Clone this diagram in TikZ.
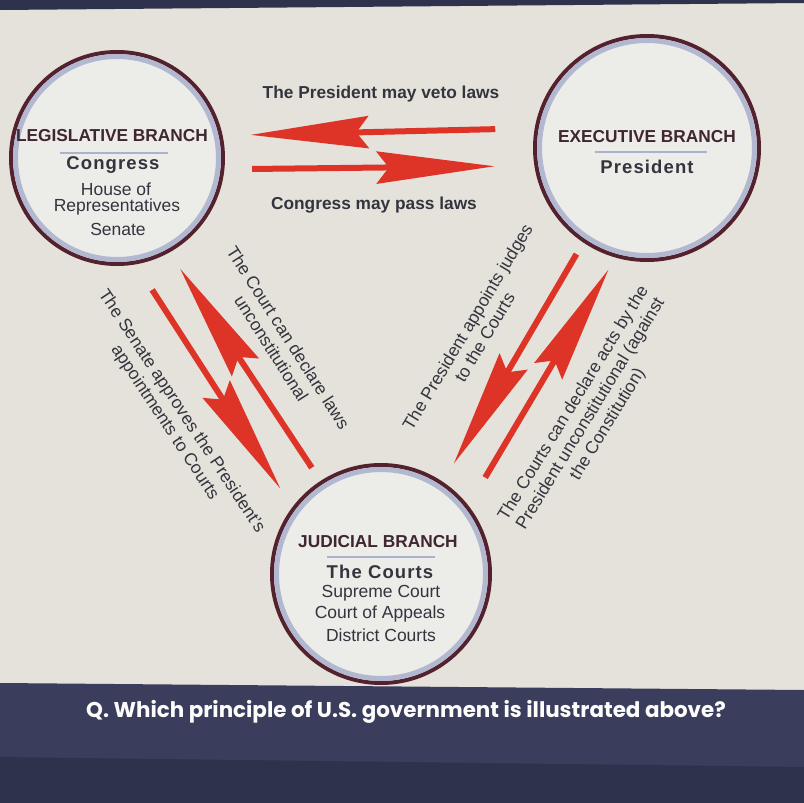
\documentclass[tikz,border=0pt]{standalone}
\usepackage{fontspec}
\setmainfont{Liberation Sans}
\newfontfamily\espaciada[LetterSpace=6]{Liberation Sans}
\newfontfamily\pregunta{Poppins}
\usetikzlibrary{arrows.meta}
\definecolor{fondo}{RGB}{228,226,218}
\definecolor{interior}{RGB}{236,236,233}
\definecolor{granate}{RGB}{84,34,46}
\definecolor{colAro}{RGB}{178,184,208}
\definecolor{rojo}{RGB}{222,52,40}
\definecolor{colTitulo}{RGB}{64,38,48}
\definecolor{colTexto}{RGB}{52,52,62}
\definecolor{banda}{RGB}{58,62,92}
\definecolor{bandaosc}{RGB}{46,50,76}
\definecolor{separa}{RGB}{172,178,205}

\begin{document}
\begin{tikzpicture}[x=1pt, y=-1pt,
    rama/.style={circle, draw=granate, line width=4pt, fill=interior, inner sep=0pt},
    aro/.style={draw=colAro, line width=5pt},
    flecha/.style={draw=rojo, line width=6pt,
      -{Stealth[length=118pt, width=32pt, inset=12pt]}},
    titulo/.style={font=\bfseries\fontsize{17.3}{20}\selectfont, text=colTitulo},
    subtitulo/.style={font=\espaciada\bfseries\fontsize{18.5}{22}\selectfont, text=colTexto},
    linea/.style={font=\fontsize{17.5}{20}\selectfont, text=colTexto},
    nota/.style={font=\fontsize{17.5}{20}\selectfont, text=colTexto, align=center},
    notab/.style={font=\bfseries\fontsize{17.3}{20}\selectfont, text=colTexto}]
  % Fondo
  \useasboundingbox (0,0) rectangle (804,803);
  \fill[fondo] (0,0) rectangle (804,803);
  \fill[bandaosc] (0,0) -- (804,0) -- (804,3) -- (0,10) -- cycle;

  % Ramas
  \node[rama, minimum size=212pt] (legis) at (117,158) {};
  \node[rama, minimum size=224pt] (ejec) at (647,148) {};
  \node[rama, minimum size=218pt] (judic) at (381,574) {};
  \draw[aro] (legis.center) circle[radius=101.5pt];
  \draw[aro] (ejec.center) circle[radius=107.5pt];
  \draw[aro] (judic.center) circle[radius=104.5pt];

  % Textos de las ramas
  \node[titulo] (legisT) at (112,136) {LEGISLATIVE BRANCH};
  \draw[separa, line width=1.5pt] (60,153) -- (168,153);
  \node[subtitulo] (congreso) at (113,165) {Congress};
  \node[linea] (camara) at (116,189) {House of};
  \node[linea] (repres) at (117,207) {Representatives};
  \node[linea] (senado) at (118,229) {Senate};

  \node[titulo] (ejecT) at (647,137) {EXECUTIVE BRANCH};
  \draw[separa, line width=1.5pt] (595,152) -- (707,152);
  \node[subtitulo] (presidente) at (647,167) {President};

  \node[titulo] (judicT) at (378,542) {JUDICIAL BRANCH};
  \draw[separa, line width=1.5pt] (327,557) -- (435,557);
  \node[subtitulo] (cortes) at (380,572) {The Courts};
  \node[linea] (suprema) at (381,593) {Supreme Court};
  \node[linea] (apelacion) at (380,614) {Court of Appeals};
  \node[linea] (distrito) at (381,635) {District Courts};

  % Flechas horizontales
  \draw[flecha, shorten <=39.5pt, shorten >=27.7pt] (ejec.170.75) -- (legis.12.96);
  \draw[flecha, shorten <=27.7pt, shorten >=39.6pt] (legis.-6.44) -- (ejec.189.77);
  \node[notab] (veto) at (381,94) {The President may veto laws};
  \node[notab] (aprueba) at (374,205) {Congress may pass laws};

  % Flechas diagonales
  \draw[flecha, shorten <=30.3pt, shorten >=22pt] (legis.-80.5) -- (judic.143.1);
  \draw[flecha, shorten <=15.8pt, shorten >=19.3pt] (judic.123.6) -- (legis.-61.2);
  \draw[flecha, shorten <=13.4pt, shorten >=21.1pt] (ejec.-124.4) -- (judic.56.4);
  \draw[flecha, shorten <=32.7pt, shorten >=13.6pt] (judic.38.5) -- (ejec.-106.7);

  \node[nota, rotate=-56.5] (senadoN) at (173,417)
    {The Senate approves the President's\\appointments to Courts};
  \node[nota, rotate=-57.5] (corteN) at (280,343)
    {The Court can declare laws\\unconstitutional};
  \node[nota, rotate=59.1] (nombraN) at (476,332)
    {The President appoints judges\\to the Courts};
  \node[nota, rotate=58.5] (actosN) at (591,414)
    {The Courts can declare acts by the\\President unconstitutional (against\\the Constitution)};

  % Pregunta
  \fill[banda] (0,683) -- (804,690) -- (804,803) -- (0,803) -- cycle;
  \fill[bandaosc] (0,757) -- (804,767) -- (804,803) -- (0,803) -- cycle;
  \node[font=\pregunta\bfseries\fontsize{21.4}{25}\selectfont, text=white!92!fondo]
    (preguntaN) at (406,712) {Q. Which principle of U.S. government is illustrated above?};
\end{tikzpicture}
\end{document}
